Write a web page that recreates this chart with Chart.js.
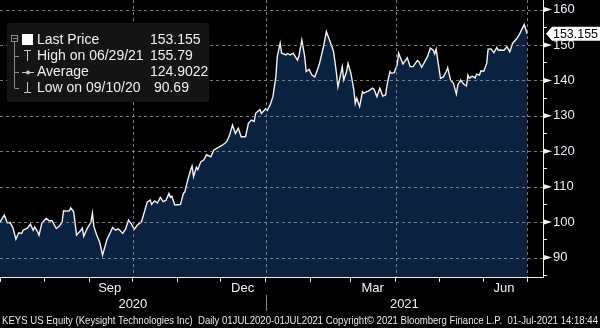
<!DOCTYPE html>
<html>
<head>
<meta charset="utf-8">
<script src="https://cdn.jsdelivr.net/npm/chart.js@4.4.0/dist/chart.umd.min.js"></script>
<style>
    html, body { margin: 0; padding: 0; background: #000; }
    #wrap { width: 600px; height: 328px; }
</style>
</head>
<body>
<div id="wrap"><canvas id="keysChart" width="600" height="328"></canvas></div>
<script>
// calendar days since 01 Jul 2020, and the close
const days = [
    0, 3, 5, 7, 9, 11, 13, 15, 16, 19, 21, 23, 24, 26, 27, 29, 32, 34, 36, 39,
    41, 43, 44, 46, 48, 49, 51, 52, 53, 56, 57, 58, 60, 63, 64, 65, 67, 69, 71, 74,
    78, 80, 82, 85, 87, 89, 91, 93, 95, 98, 99, 102, 104, 105, 107, 109, 111, 113, 115, 117,
    118, 119, 121, 123, 125, 127, 128, 130, 132, 133, 134, 136, 137, 139, 141, 143, 146, 148, 150, 154,
    157, 159, 161, 163, 165, 167, 170, 172, 174, 176, 177, 180, 181, 184, 185, 187, 189, 191, 192, 194,
    195, 198, 199, 201, 203, 206, 207, 209, 211, 212, 214, 216, 218, 221, 224, 226, 229, 231, 233, 234,
    237, 238, 240, 241, 243, 245, 246, 247, 249, 251, 252, 254, 255, 258, 259, 261, 263, 265, 267, 268,
    270, 271, 273, 275, 276, 279, 282, 284, 286, 289, 290, 292, 296, 298, 300, 301, 302, 305, 307, 309,
    310, 312, 314, 316, 317, 319, 321, 323, 324, 325, 327, 329, 330, 332, 333, 335, 337, 338, 340, 342,
    344, 345, 347, 349, 351, 353, 355, 358, 360, 363, 365
];
const prices = [
    100.0, 102.0, 99.8, 99.9, 98.3, 95.2, 97.0, 96.8, 97.7, 98.3, 99.4, 97.7, 98.6, 97.3, 96.3, 99.7, 101.1, 100.4, 100.4, 98.2,
    98.8, 100.0, 103.2, 103.1, 103.2, 104.0, 102.9, 99.7, 96.3, 97.7, 98.3, 96.0, 97.9, 100.0, 102.5, 98.8, 96.3, 94.4, 90.69, 95.0,
    98.5, 97.7, 98.1, 96.8, 98.1, 100.6, 99.4, 98.0, 99.1, 100.1, 101.5, 105.7, 106.2, 105.0, 106.0, 105.4, 107.0, 105.8, 106.2, 108.1,
    107.0, 107.3, 104.8, 104.9, 105.0, 108.1, 108.5, 111.9, 114.7, 115.8, 112.8, 115.5, 114.8, 117.0, 117.5, 119.0, 118.4, 120.3, 120.8, 121.7,
    122.7, 124.6, 127.4, 125.0, 126.5, 124.1, 124.1, 127.9, 128.8, 128.4, 130.7, 131.8, 130.7, 132.0, 131.5, 133.0, 135.4, 141.0, 146.7, 150.5,
    147.7, 147.2, 147.6, 147.2, 147.7, 145.7, 146.9, 151.4, 146.7, 142.5, 143.1, 141.5, 141.0, 144.4, 149.5, 153.8, 150.5, 148.1, 142.0, 138.2,
    143.9, 140.1, 142.5, 144.8, 142.0, 137.3, 133.5, 135.0, 132.6, 136.8, 136.4, 136.8, 137.0, 137.8, 137.5, 135.4, 137.8, 135.6, 135.9, 138.7,
    142.5, 142.0, 142.2, 144.4, 147.7, 144.6, 146.4, 143.9, 143.9, 145.6, 145.3, 143.7, 146.7, 149.1, 148.5, 147.5, 148.8, 140.6, 141.0, 142.5,
    143.6, 140.1, 139.2, 136.2, 138.7, 140.1, 139.0, 138.4, 141.5, 140.6, 141.2, 140.7, 141.8, 141.5, 142.7, 142.6, 144.8, 148.8, 148.9, 147.8,
    149.3, 148.5, 148.6, 148.5, 149.5, 148.1, 150.5, 151.9, 153.3, 155.79, 153.155
];

const monthStarts = [0, 31, 62, 92, 123, 153, 184, 215, 243, 274, 304, 335, 365];
const quarterStarts = [92, 184, 274, 365];
const monthLabels = ['Sep', 'Dec', 'Mar', 'Jun'];
const monthLabelDays = [76, 168, 258, 349];
const yearLabels = ['2020', '2021'];
const yearLabelDays = [92, 280];
const yearBreakDay = 184;
const yGridValues = [90, 100, 110, 120, 130, 140, 150, 160];

const legendNames = ['Last Price', 'High on 06/29/21', 'Average', 'Low on 09/10/20'];
const legendValues = ['153.155', '155.79', '124.9022', ' 90.69'];
const lastPrice = 153.155;
const footerText = 'KEYS US Equity (Keysight Technologies Inc)  Daily 01JUL2020-01JUL2021 Copyright\u00a9 2021 Bloomberg Finance L.P.  01-Jul-2021 14:18:44';

const FONT = "'Liberation Sans', Arial, sans-serif";

function line(ctx, x1, y1, x2, y2) {
    ctx.beginPath();
    ctx.moveTo(x1, y1);
    ctx.lineTo(x2, y2);
    ctx.stroke();
}

// Bloomberg style decorations: dashed grid over the fill, legend box, labels
const bbgPlugin = {
    id: 'bbg',
    afterDatasetsDraw(chart) {
        const { ctx, chartArea: a, scales: { x, y } } = chart;
        ctx.save();
        ctx.strokeStyle = 'rgba(150,150,150,0.8)';
        ctx.lineWidth = 1;
        ctx.setLineDash([3, 3]);
        yGridValues.forEach(v => {
            const py = Math.round(y.getPixelForValue(v)) + 0.5;
            line(ctx, a.left, py, a.right, py);
        });
        quarterStarts.forEach(d => {
            const px = Math.round(x.getPixelForValue(d)) + 0.5;
            line(ctx, px, a.top, px, a.bottom);
        });
        ctx.restore();
    },
    afterDraw(chart) {
        const { ctx, chartArea: a, scales: { x, y } } = chart;
        ctx.save();

        // arrow heads on the major y ticks
        ctx.fillStyle = '#f0f0f0';
        yGridValues.forEach(v => {
            const py = y.getPixelForValue(v);
            ctx.beginPath();
            ctx.moveTo(a.right + 1, py - 2.5);
            ctx.lineTo(a.right + 9, py);
            ctx.lineTo(a.right + 1, py + 2.5);
            ctx.closePath();
            ctx.fill();
        });

        // last price tag
        const ly = y.getPixelForValue(lastPrice);
        ctx.fillStyle = '#ffffff';
        ctx.beginPath();
        ctx.moveTo(a.right + 3, ly);
        ctx.lineTo(a.right + 9, ly - 7);
        ctx.lineTo(600, ly - 7);
        ctx.lineTo(600, ly + 7);
        ctx.lineTo(a.right + 9, ly + 7);
        ctx.closePath();
        ctx.fill();
        ctx.fillStyle = '#000';
        ctx.font = '13px ' + FONT;
        ctx.textBaseline = 'middle';
        ctx.textAlign = 'left';
        ctx.fillText(String(lastPrice), a.right + 10, ly + 0.5, 45);

        // month and year labels
        ctx.fillStyle = '#f0f0f0';
        ctx.textAlign = 'center';
        ctx.font = '13px ' + FONT;
        monthLabels.forEach((m, i) => {
            ctx.fillText(m, x.getPixelForValue(monthLabelDays[i]), 288);
        });
        yearLabels.forEach((m, i) => {
            ctx.fillText(m, x.getPixelForValue(yearLabelDays[i]), 304);
        });
        ctx.strokeStyle = '#8a8a8a';
        ctx.lineWidth = 1;
        const bx = Math.round(x.getPixelForValue(yearBreakDay)) + 0.5;
        line(ctx, bx, 295, bx, 311);

        // footer
        ctx.textAlign = 'left';
        ctx.font = '11px ' + FONT;
        ctx.fillStyle = '#e6e6e6';
        ctx.fillText(footerText, 2, 321, 596);

        // legend box
        ctx.fillStyle = '#141414';
        ctx.beginPath();
        ctx.roundRect(7, 23, 202, 79, 3);
        ctx.fill();

        ctx.strokeStyle = '#8c8c8c';
        ctx.strokeRect(11.5, 35.5, 6, 6);
        line(ctx, 13, 38.5, 17, 38.5);
        line(ctx, 14.5, 42, 14.5, 88);
        [56, 72, 88].forEach(r => line(ctx, 14.5, r + 0.5, 19, r + 0.5));

        ctx.fillStyle = '#ffffff';
        ctx.fillRect(22, 34, 11, 11);

        ctx.strokeStyle = '#c8c8c8';
        line(ctx, 24, 50.5, 31, 50.5);
        line(ctx, 27.5, 50, 27.5, 61);
        line(ctx, 22, 72.5, 34, 72.5);
        ctx.fillStyle = '#c8c8c8';
        ctx.beginPath();
        ctx.arc(28, 72.5, 2, 0, Math.PI * 2);
        ctx.fill();
        line(ctx, 27.5, 82, 27.5, 93);
        line(ctx, 24, 92.5, 31, 92.5);

        ctx.fillStyle = '#f0f0f0';
        ctx.font = '14px ' + FONT;
        ctx.textBaseline = 'middle';
        legendNames.forEach((n, i) => {
            const ry = 40 + i * 16;
            ctx.fillText(n, 37, ry);
            ctx.fillText(legendValues[i], 150, ry);
        });

        ctx.restore();
    }
};

const ctx = document.getElementById('keysChart').getContext('2d');
const keysChart = new Chart(ctx, {
    type: 'line',
    data: {
        datasets: [{
            data: days.map((d, i) => ({ x: d, y: prices[i] })),
            borderColor: '#f2f2f2',
            borderWidth: 1.4,
            backgroundColor: '#0b2140',
            fill: 'start',
            pointRadius: 0,
            tension: 0
        }]
    },
    options: {
        responsive: false,
        animation: false,
        events: [],
        layout: { padding: 0 },
        plugins: {
            legend: { display: false },
            tooltip: { enabled: false }
        },
        scales: {
            x: {
                type: 'linear',
                min: 0,
                max: 376,
                afterBuildTicks: s => { s.ticks = monthStarts.map(v => ({ value: v })); },
                afterFit: s => { s.height = 51; s.paddingLeft = 0; s.paddingRight = 0; },
                grid: { drawOnChartArea: false, drawTicks: true, tickLength: 5, tickColor: '#e0e0e0' },
                border: { color: '#f0f0f0', width: 1 },
                ticks: { display: false }
            },
            y: {
                position: 'right',
                min: 84.5,
                max: 162.7,
                afterBuildTicks: s => {
                    s.ticks = [];
                    for (let v = 85; v <= 160; v += 5) s.ticks.push({ value: v });
                },
                afterFit: s => { s.width = 57; s.paddingTop = 0; s.paddingBottom = 0; },
                grid: {
                    drawOnChartArea: false,
                    tickLength: 4,
                    tickColor: c => (c.tick && c.tick.value % 10 === 0) ? 'rgba(0,0,0,0)' : '#f0f0f0'
                },
                border: { color: '#f0f0f0', width: 1 },
                ticks: {
                    color: '#e8eef8',
                    font: { family: FONT, size: 13 },
                    padding: 6,
                    autoSkip: false,
                    callback: v => (v % 10 === 0 ? v : '')
                }
            }
        }
    },
    plugins: [bbgPlugin]
});
</script>
</body>
</html>
